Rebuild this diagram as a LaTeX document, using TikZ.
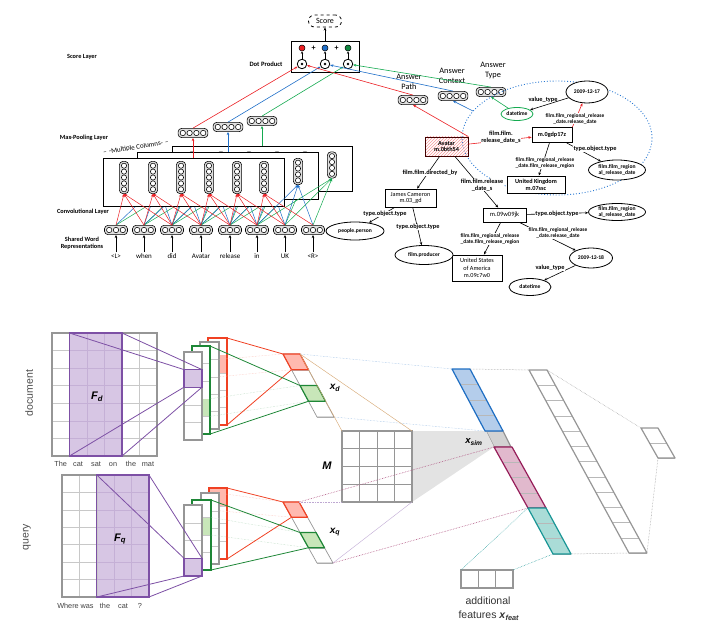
\documentclass[tikz,border=0pt]{standalone}
\usepackage{fontspec}
\setmainfont{Carlito}
\newfontfamily\arialf{Liberation Sans}
\usetikzlibrary{arrows.meta,shapes.geometric,patterns,calc}
\pgfdeclarelayer{back}
\pgfsetlayers{back,main}
\definecolor{cred}{RGB}{235,30,35}
\definecolor{cblue}{RGB}{30,110,200}
\definecolor{cgreen}{RGB}{20,170,80}
\definecolor{bred}{RGB}{240,65,35}
\definecolor{bredfill}{RGB}{255,185,175}
\definecolor{bgreen}{RGB}{30,135,55}
\definecolor{bgreenfill}{RGB}{200,230,185}
\definecolor{bpurp}{RGB}{125,80,165}
\definecolor{bpurpfill}{RGB}{215,198,228}
\definecolor{bblue}{RGB}{30,110,195}
\definecolor{bbluefill}{RGB}{180,205,235}
\definecolor{bmar}{RGB}{150,30,90}
\definecolor{bmarfill}{RGB}{225,185,205}
\definecolor{bteal}{RGB}{25,150,150}
\definecolor{btealfill}{RGB}{170,220,215}
\definecolor{bgray}{RGB}{150,150,150}
\definecolor{lgray}{RGB}{200,200,200}
\definecolor{orng}{RGB}{215,170,120}
\definecolor{kgblue}{RGB}{40,120,210}
\tikzset{
 vecbox/.style={draw, rounded corners=3.5pt, fill=gray!25, line width=0.6pt, inner sep=0pt},
 circ/.style={draw, line width=0.55pt, fill=white},
 wordlab/.style={font=\fontsize{7}{8}\selectfont, inner sep=1pt, text height=5pt, text depth=1.2pt},
 layerlab/.style={font=\fontsize{6.3}{7.5}\selectfont\bfseries, align=center},
 convbox/.style={draw, fill=white, line width=0.8pt, inner sep=0pt},
 arr/.style={-{Stealth[length=3.2pt,width=2.6pt]}, line width=0.6pt},
 kgbox/.style={draw, line width=0.8pt, fill=white, align=center, font=\fontsize{6.2}{6.8}\selectfont\bfseries, inner sep=0pt},
 kgell/.style={ellipse, draw, line width=0.8pt, fill=white, align=center, font=\fontsize{5.6}{6.2}\selectfont\bfseries, inner sep=0pt},
 kglab/.style={fill=white, inner sep=0.4pt, align=center, font=\fontsize{6.3}{6.8}\selectfont\bfseries},
 kglabs/.style={fill=white, inner sep=0.4pt, align=center, font=\fontsize{5.4}{6}\selectfont\bfseries},
 anslab/.style={font=\fontsize{8.3}{9.8}\selectfont, align=center},
 gline/.style={line width=1.2pt, draw=bgray},
 thing/.style={draw=lgray, line width=0.5pt},
 blab/.style={font=\arialf\fontsize{7.3}{8}\selectfont, text=black!75, inner sep=0.5pt, text height=5.5pt, text depth=1.5pt},
 bigl/.style={font=\arialf\fontsize{10.5}{12}\selectfont, text=black!70},
 vlab/.style={font=\arialf\fontsize{10}{11}\selectfont\bfseries\itshape},
 fblue/.style={draw=bblue!50, line width=0.45pt, densely dotted},
 forange/.style={draw=orng, line width=0.45pt},
 fpurp/.style={draw=bmar!75, line width=0.6pt, densely dotted},
 fpurps/.style={draw=bpurp!45, line width=0.45pt},
 fgray/.style={draw=bgray, line width=0.5pt, densely dotted},
 fteal/.style={draw=bteal, line width=0.5pt, densely dotted},
 fpink/.style={draw=bred!35, line width=0.45pt, densely dotted},
 fgreen/.style={draw=bgreen!35, line width=0.45pt, densely dotted},
}
% horizontal vector of circles
\newcommand\hv[4]{%
 \node[vecbox, minimum width={#4*6.8pt+2.6pt}, minimum height=9.2pt] (#1) at (#2,#3) {};
 \foreach \k in {1,...,#4}{\draw[circ] ([xshift={(\k-(#4+1)/2)*6.8pt}]#1.center) circle[radius=2.7pt];}
}
% vertical vector of circles
\newcommand\vv[4]{%
 \node[vecbox, minimum height={#4*5.9pt+2.6pt}, minimum width=9.2pt] (#1) at (#2,#3) {};
 \foreach \k in {1,...,#4}{\draw[circ] ([yshift={(\k-(#4+1)/2)*5.9pt}]#1.center) circle[radius=2.6pt];}
}
% tilted vector: name, x0, y0, w, dx, h, n, fill, border style
\newcommand\tvec[9]{%
 \foreach \k in {0,...,#7}{
   \coordinate (#1-l\k) at ({#2+\k*#5},{#3+\k*#6});
   \coordinate (#1-r\k) at ({#2+\k*#5+#4},{#3+\k*#6});
 }
 \fill[#8] (#1-l0) -- (#1-r0) -- (#1-r#7) -- (#1-l#7) -- cycle;
 \foreach \k in {1,...,#7}{\draw[black!28, line width=0.5pt] (#1-l\k) -- (#1-r\k);}
 \draw[#9, line join=round] (#1-l0) -- (#1-r0) -- (#1-r#7) -- (#1-l#7) -- cycle;
}
% upright column: name, x0,y0,x1,y1, rows, border colour
\newcommand\colv[7]{%
 \coordinate (#1-tl) at (#2,#3); \coordinate (#1-tr) at (#4,#3);
 \coordinate (#1-bl) at (#2,#5); \coordinate (#1-br) at (#4,#5);
 \fill[white] (#1-tl) rectangle (#1-br);
 \foreach \k in {0,...,#6}{
   \coordinate (#1-L\k) at ($(#1-tl)!{\k/#6}!(#1-bl)$);
   \coordinate (#1-R\k) at ($(#1-tr)!{\k/#6}!(#1-br)$);
 }
 \foreach \k in {1,...,#6}{\draw[lgray, line width=0.5pt] (#1-L\k) -- (#1-R\k);}
 \draw[#7, line width=1.2pt] (#1-tl) rectangle (#1-br);
}
\newcommand\cellfill[3]{% name, k, colour
 \pgfmathtruncatemacro\kk{#2+1}
 \fill[#3] (#1-L#2) rectangle (#1-R\kk);
}
\begin{document}
\begin{tikzpicture}[x=1pt,y=-1pt]
\useasboundingbox (0,0) rectangle (703,639);

% ================= TOP LEFT =================
\node[layerlab] (lscore) at (82,57) {Score Layer};
\node[layerlab] (lmax) at (84,137.5) {Max-Pooling Layer};
\node[layerlab] (lconv) at (83,212) {Convolutional Layer};
\node[layerlab] (lshared) at (82,243.5) {Shared Word\\Representations};
\node[layerlab, font=\fontsize{6.6}{7.5}\selectfont\bfseries] (ldp) at (266,64) {Dot Product};

\node[draw, dashed, rounded corners=6pt, line width=0.8pt, minimum width=33pt, minimum height=12pt, inner sep=0pt, font=\fontsize{8}{9}\selectfont] (score) at (325,21) {Score};
\node[draw, line width=0.8pt, minimum width=68pt, minimum height=31pt, inner sep=0pt] (dp) at (325,56.5) {};
\draw[arr] (dp.north) -- (score.south);
\node[circle, draw, fill=cred, minimum size=6pt, inner sep=0pt, line width=0.5pt] (d1) at (302,48) {};
\node[circle, draw, fill=cblue, minimum size=6pt, inner sep=0pt, line width=0.5pt] (d2) at (325,48) {};
\node[circle, draw, fill=cgreen!80!black, minimum size=6pt, inner sep=0pt, line width=0.5pt] (d3) at (348,48) {};
\node[font=\fontsize{8}{9}\selectfont\bfseries] (p1) at (313.5,48) {+};
\node[font=\fontsize{8}{9}\selectfont\bfseries] (p2) at (336.5,48) {+};
\foreach \n/\x in {1/302,2/325,3/348}{
 \node[circle, draw, line width=0.8pt, minimum size=9.5pt, inner sep=0pt] (o\n) at (\x,64) {};
 \fill (o\n) circle[radius=1.3pt];
 \draw[arr, line width=0.5pt, -{Stealth[length=2.6pt,width=2.4pt]}] (o\n.north) -- (d\n.south);
}

% conv boxes
\node[convbox, minimum width=180pt, minimum height=45pt] (box3) at (262,168.5) {};
\foreach \i/\x in {0/124,1/153,2/181,3/209,4/237,5/264}{\vv{gA\i}{\x+68}{165}{4}}
\node[convbox, minimum width=181pt, minimum height=47pt] (box2) at (227.5,175.5) {};
\foreach \i/\x in {0/124,1/153,2/181,3/209,4/237,5/264}{\vv{bB\i}{\x+34}{171.5}{4}}
\node[convbox, minimum width=181pt, minimum height=48pt] (box1) at (193.5,182) {};
\foreach \i/\x in {0/124,1/153,2/181,3/209,4/237,5/264}{\vv{rC\i}{\x}{177.5}{5}}
\node[rotate=9.2, font=\fontsize{7}{8}\selectfont, inner sep=0pt] (mc) at (136,147.5) {–\,\,-Multiple Columns-\,\,–};

% words
\foreach \i/\x/\t in {0/116/\textless L\textgreater,1/144/when,2/172/did,3/201/Avatar,4/230/release,5/257/in,6/285/UK,7/313/\textless R\textgreater}{
 \hv{w\i}{\x}{230}{3}
 \node[wordlab] (t\i) at (\x,256.5) {\t};
 \draw[arr] (t\i.north) -- (w\i.south);
}
\begin{pgfonlayer}{back}
\foreach \i in {0,...,4}{\foreach \d in {0,1,2}{\pgfmathtruncatemacro\j{\i+\d}
 \draw[cblue, line width=0.5pt] (w\j.north) -- (bB\i.south);
 \draw[cgreen, line width=0.5pt] (w\j.north) -- (gA\i.south);}}
\end{pgfonlayer}
\foreach \d in {0,1,2}{\pgfmathtruncatemacro\j{5+\d}
 \draw[arr, cblue, line width=0.5pt] (w\j.north) -- (bB5.south);
 \draw[arr, cgreen, line width=0.5pt] (w\j.north) -- (gA5.south);}
\foreach \i in {0,...,5}{\foreach \d in {0,1,2}{\pgfmathtruncatemacro\j{\i+\d}
 \draw[arr, cred, line width=0.5pt] (w\j.north) -- (rC\i.south);}}

% pooling
\hv{pool1}{193}{133}{4}
\hv{pool2}{228}{127}{4}
\hv{pool3}{262}{121}{4}
\draw[arr, cred] (pool1.south |- box1.north) -- (pool1.south);
\draw[arr, cblue] (pool2.south |- box2.north) -- (pool2.south);
\draw[arr, cgreen] (pool3.south |- box3.north) -- (pool3.south);
\draw[arr, cred] (pool1.north) -- (o1);
\draw[arr, cblue] (pool2.north) -- (o2);
\draw[arr, cgreen] (pool3.north) -- (o3);

% answer vectors
\hv{ap}{413}{100}{4}
\hv{ac}{453}{96}{4}
\hv{at}{491}{92}{4}
\node[anslab] (lap) at (409,82) {Answer\\Path};
\node[anslab] (lac) at (452,76) {Answer\\Context};
\node[anslab] (lat) at (493,70.5) {Answer\\Type};
\draw[arr, cred] (ap.north) -- (o1);
\draw[arr, cblue] (ac.north) -- (o2);
\draw[arr, cgreen] (at.north) -- (o3);

% ================= KNOWLEDGE GRAPH =================
\draw[kgblue, line width=0.9pt, dotted] (557,138) ellipse [x radius=95pt, y radius=57pt];
\coordinate (ellp) at (473,111);
\node[draw=black!75!red, line width=0.8pt, pattern=north east lines, pattern color=cred!45, align=center, font=\fontsize{6.2}{6.8}\selectfont\bfseries, inner sep=0pt, minimum width=43pt, minimum height=19pt] (avatar) at (446.5,146.5) {Avatar\\m.0bth54};
\node[kgbox, minimum width=40pt, minimum height=15pt] (m0g) at (552,135) {m.0gdp17z};
\node[kgbox, minimum width=58pt, minimum height=17pt] (uk) at (536,184.5) {United Kingdom\\m.07ssc};
\node[kgbox, minimum width=51pt, minimum height=18pt, font=\fontsize{6.2}{6.8}\selectfont] (jc) at (410.5,198) {James Cameron\\m.03\_gd};
\node[kgbox, minimum width=43pt, minimum height=14pt, font=\fontsize{6.5}{7}\selectfont] (m09) at (504.5,215) {m.09w09jk};
\node[kgbox, minimum width=50pt, minimum height=26pt, font=\fontsize{6.2}{7.4}\selectfont] (us) at (477,268) {United States\\of America\\m.09c7w0};
\node[kgell, minimum width=42pt, minimum height=22pt] (e17) at (587,92) {2009-12-17};
\node[kgell, draw=cgreen, minimum width=32pt, minimum height=13pt] (dt1) at (517,114) {datetime};
\node[kgell, minimum width=57pt, minimum height=20pt] (fr1) at (617,170) {film.film\_region\\al\_release\_date};
\node[kgell, minimum width=57pt, minimum height=17pt] (fr2) at (617,212) {film.film\_region\\al\_release\_date};
\node[kgell, minimum width=43pt, minimum height=20pt] (e18) at (591,258) {2009-12-18};
\node[kgell, minimum width=42pt, minimum height=17pt] (dt2) at (530,287) {datetime};
\node[kgell, minimum width=58pt, minimum height=18pt] (pp) at (355,231) {people.person};
\node[kgell, minimum width=58pt, minimum height=19pt] (fp) at (424,255) {film.producer};

\draw[arr, cred] (avatar.north east) -- (ap.south);
\draw[arr, cblue] (ellp) -- (ac.south);
\draw[arr, cgreen] (dt1) -- (at.south);
\draw[arr, cred] (avatar) -- (m0g);
\draw[arr, cred] (m0g.north east) -- (e17);
\draw[arr] (m0g) -- (fr1);
\draw[arr] (m0g) -- (uk);
\draw[arr] (e17) -- (dt1);
\draw[arr] (avatar) -- (jc);
\draw[arr] (avatar) -- (m09);
\draw[arr] (m09) -- (fr2);
\draw[arr] (m09) -- (us);
\draw[arr] (m09) -- (e18);
\draw[arr] (e18) -- (dt2);
\draw[arr] (jc) -- (pp);
\draw[arr] (jc) -- (fp);

\node[kglab] (l1) at (501,137.5) {film.film.\\release\_date\_s};
\node[kglabs] (l2) at (575,118.5) {film.film\_regional\_release\\\_date.release\_date};
\node[kglab] (l3) at (595,149) {type.object.type};
\node[kglabs] (l4) at (545,163) {film.film\_regional\_release\\\_date.film\_release\_region};
\node[kglab, fill=none] (l5) at (543,99.5) {value\_type};
\node[kglab] (l6) at (430,173) {film.film.directed\_by};
\node[kglab] (l7) at (482,185) {film.film.release\\\_date\_s};
\node[kglab] (l8) at (557,214) {type.object.type};
\node[kglabs] (l9) at (490,239) {film.film\_regional\_release\\\_date.film\_release\_region};
\node[kglabs] (l10) at (558,233) {film.film\_regional\_release\\\_date.release\_date};
\node[kglab] (l11) at (550,268) {value\_type};
\node[kglab] (l12) at (385,214) {type.object.type};
\node[kglab] (l13) at (418,227) {type.object.type};

% ================= BOTTOM =================
\tvec{xs}{486}{431}{17}{8}{16}{1}{gray!35}{bgray, line width=1.2pt}
\coordinate (M-tl) at (342,431); \coordinate (M-tr) at (412,431);
\coordinate (M-bl) at (342,502); \coordinate (M-br) at (412,502);
\fill[gray!22] (M-tr) -- (xs-l0) -- (xs-l1) -- (M-br) -- cycle;

% document grid
\coordinate (dF-tl) at (69.5,333); \coordinate (dF-tr) at (122,333);
\coordinate (dF-bl) at (69.5,456); \coordinate (dF-br) at (122,456);
\fill[bpurpfill] (dF-tl) rectangle (dF-br);
\foreach \i in {1,...,5}{\draw[thing] ({52+\i*17.5},333) -- ({52+\i*17.5},456);}
\foreach \j in {1,...,6}{\draw[thing] (52,{333+\j*17.57}) -- (157,{333+\j*17.57});}
\foreach \i in {2,3}{\draw[bpurp!45, line width=0.5pt] ({52+\i*17.5},333) -- ({52+\i*17.5},456);}
\foreach \j in {1,...,6}{\draw[bpurp!45, line width=0.5pt] (69.5,{333+\j*17.57}) -- (122,{333+\j*17.57});}
\draw[gline] (52,333) rectangle (157,456);
\draw[bpurp, line width=1.2pt] (dF-tl) rectangle (dF-br);
\node[vlab, font=\arialf\fontsize{11}{12}\selectfont\bfseries\itshape] (Fd) at (97,397) {F\textsubscript{d}};
\foreach \x/\t in {60.7/The,78/cat,96/sat,113/on,131/the,148/mat}{\node[blab] (dw\t) at (\x,464) {\t};}
\node[bigl, rotate=90] (ldoc) at (29,393) {document};

% query grid
\coordinate (qF-tl) at (96.8,475); \coordinate (qF-tr) at (149,475);
\coordinate (qF-bl) at (96.8,597); \coordinate (qF-br) at (149,597);
\fill[bpurpfill] (qF-tl) rectangle (qF-br);
\foreach \i in {1,...,4}{\draw[thing] ({62+\i*17.4},475) -- ({62+\i*17.4},597);}
\foreach \j in {1,...,6}{\draw[thing] (62,{475+\j*17.43}) -- (149,{475+\j*17.43});}
\foreach \i in {3,4}{\draw[bpurp!45, line width=0.5pt] ({62+\i*17.4},475) -- ({62+\i*17.4},597);}
\foreach \j in {1,...,6}{\draw[bpurp!45, line width=0.5pt] (96.8,{475+\j*17.43}) -- (149,{475+\j*17.43});}
\draw[gline] (62,475) rectangle (149,597);
\draw[bpurp, line width=1.2pt] (qF-tl) rectangle (qF-br);
\node[vlab, font=\arialf\fontsize{11}{12}\selectfont\bfseries\itshape] (Fq) at (120,539) {F\textsubscript{q}};
\foreach \x/\t/\n in {68/Where/1,87/was/2,105/the/3,123/cat/4,140/?/5}{\node[blab] (qw\n) at (\x,606) {\t};}
\node[bigl, rotate=90] (lq) at (27,537) {query};

% document columns
\colv{drc}{208}{338}{227}{425}{5}{bred}
\cellfill{drc}{1}{bredfill}
\draw[bred, line width=1.2pt] (drc-tl) rectangle (drc-br);
\colv{dg2}{200}{342}{219}{429}{5}{bgray}
\colv{dgc}{192}{346}{210}{434}{5}{bgreen}
\cellfill{dgc}{3}{bgreenfill}
\draw[bgreen, line width=1.2pt] (dgc-tl) rectangle (dgc-br);
\colv{dg1}{184}{352}{202}{440}{5}{bgray}
\draw[bpurp, fill=bpurpfill, line width=1.2pt] (dg1-L1) rectangle (dg1-R2);

% query columns
\colv{qrc}{209}{488}{227}{559}{4}{bred}
\cellfill{qrc}{0}{bredfill}
\draw[bred, line width=1.2pt] (qrc-tl) rectangle (qrc-br);
\colv{qg2}{201}{493}{219}{564}{4}{bgray}
\colv{qgc}{192}{500}{211}{570}{4}{bgreen}
\cellfill{qgc}{1}{bgreenfill}
\draw[bgreen, line width=1.2pt] (qgc-tl) rectangle (qgc-br);
\colv{qg1}{184}{505}{202}{576}{4}{bgray}
\draw[bpurp, fill=bpurpfill, line width=1.2pt] (qg1-L3) rectangle (qg1-R4);

% x_d and x_q
\tvec{xd}{283}{354}{17}{8.5}{15.75}{4}{white}{bgray, line width=0.7pt}
\draw[bred, fill=bredfill, line width=1.2pt, line join=round] (xd-l0) -- (xd-r0) -- (xd-r1) -- (xd-l1) -- cycle;
\draw[bgreen, fill=bgreenfill, line width=1.2pt, line join=round] (xd-l2) -- (xd-r2) -- (xd-r3) -- (xd-l3) -- cycle;
\tvec{xq}{283}{502}{16}{8.5}{15.25}{4}{white}{bgray, line width=0.7pt}
\draw[bred, fill=bredfill, line width=1.2pt, line join=round] (xq-l0) -- (xq-r0) -- (xq-r1) -- (xq-l1) -- cycle;
\draw[bgreen, fill=bgreenfill, line width=1.2pt, line join=round] (xq-l2) -- (xq-r2) -- (xq-r3) -- (xq-l3) -- cycle;

% faint connections
\draw[fpink] (dg2-R1) -- (xd-l0);
\draw[fpink] (dg2-R2) -- (xd-l1);
\draw[fgreen] (dgc-R3) -- (xd-l2);
\draw[fgreen] (dgc-R4) -- (xd-l3);
\draw[fpink] (qg2-R0) -- (xq-l0);
\draw[fpink] (qg2-R1) -- (xq-l1);
\draw[fgreen] (qgc-R1) -- (xq-l2);
\draw[fgreen] (qgc-R2) -- (xq-l3);

% M grid
\fill[white] (M-tl) rectangle (M-br);
\foreach \i in {1,2,3}{\draw[bgray, line width=0.9pt] ({342+\i*17.5},431) -- ({342+\i*17.5},502);
 \draw[bgray, line width=0.9pt] (342,{431+\i*17.75}) -- (412,{431+\i*17.75});}
\draw[gline] (M-tl) rectangle (M-br);
\node[vlab, font=\arialf\fontsize{11}{12}\selectfont\bfseries\itshape] (Mlab) at (327,466) {M};

% right vectors
\tvec{bl}{452}{369}{18}{8.25}{15.5}{4}{bbluefill}{bblue, line width=1.2pt}
\tvec{pk}{494}{447}{18}{8.5}{15.25}{4}{bmarfill}{bmar, line width=1.2pt}
\tvec{tl}{528}{508}{18}{8.33}{15.33}{3}{btealfill}{bteal, line width=1.2pt}
\tvec{bg}{529}{370}{18}{8.33}{15.25}{12}{white}{bgray, line width=1.2pt}
\tvec{ot}{641}{428}{17}{8.5}{15}{2}{white}{bgray, line width=1.2pt}

% features box
\coordinate (ft-tl) at (461,570); \coordinate (ft-tr) at (513,570);
\coordinate (ft-bl) at (461,588); \coordinate (ft-br) at (513,588);
\draw[bgray, line width=0.6pt] (478.3,570) -- (478.3,588) (495.7,570) -- (495.7,588);
\draw[gline] (ft-tl) rectangle (ft-br);
\node[bigl, text=black!80] (ladd) at (488,601) {additional};
\node[bigl, text=black!80] (lfeat) at (489,616) {features \textbf{\textit{x}}\textsubscript{\textbf{\textit{feat}}}};

% connectors
\draw[bpurp, line width=0.8pt] (dF-tl) -- (dg1-L1);
\draw[bpurp, line width=0.8pt] (dF-tr) -- (dg1-R1);
\draw[bpurp, line width=0.8pt] (dF-bl) -- (dg1-L2);
\draw[bpurp, line width=0.8pt] (dF-br) -- (dg1-R2);
\draw[bpurp, line width=0.8pt] (qF-tl) -- (qg1-L3);
\draw[bpurp, line width=0.8pt] (qF-tr) -- (qg1-R3);
\draw[bpurp, line width=0.8pt] (qF-bl) -- (qg1-L4);
\draw[bpurp, line width=0.8pt] (qF-br) -- (qg1-R4);
\draw[bred, line width=0.8pt] (drc-tr) -- (xd-l0);
\draw[bred, line width=0.8pt] (drc-br) -- (xd-l1);
\draw[bgreen, line width=0.8pt] (dgc-tr) -- (xd-l2);
\draw[bgreen, line width=0.8pt] (dgc-br) -- (xd-l3);
\draw[bred, line width=0.8pt] (qrc-tr) -- (xq-l0);
\draw[bred, line width=0.8pt] (qrc-br) -- (xq-l1);
\draw[bgreen, line width=0.8pt] (qgc-tr) -- (xq-l2);
\draw[bgreen, line width=0.8pt] (qgc-br) -- (xq-l3);

\draw[fblue] (xd-r0) -- (bl-l0);
\draw[fblue] (xd-r4) -- (bl-l4);
\draw[forange] (xd-r0) -- (M-tl);
\draw[forange] (xd-r0) -- (M-tr);
\draw[fpurp] (xq-r0) -- (pk-l0);
\draw[fpurp] (xq-r4) -- (pk-l4);
\draw[fpurp, draw=bpurp!50] (xq-r0) -- (M-bl);
\draw[fpurps] (xq-r4) -- (M-br);
\draw[fgray] (bl-r0) -- (bg-l0);
\draw[fgray] (tl-r3) -- (bg-l12);
\draw[fgray] (bg-r0) -- (ot-l0);
\draw[fgray] (bg-r12) -- (ot-l2);
\draw[fteal] (ft-tl) -- (tl-l0);
\draw[fteal] (ft-tr) -- (tl-l3);

\node[vlab] (lxd) at (335,388) {x\textsubscript{d}};
\node[vlab] (lxq) at (335,532) {x\textsubscript{q}};
\node[vlab, font=\arialf\fontsize{9.5}{11}\selectfont\bfseries\itshape] (lxs) at (474,442) {x\textsubscript{sim}};
\end{tikzpicture}
\end{document}
